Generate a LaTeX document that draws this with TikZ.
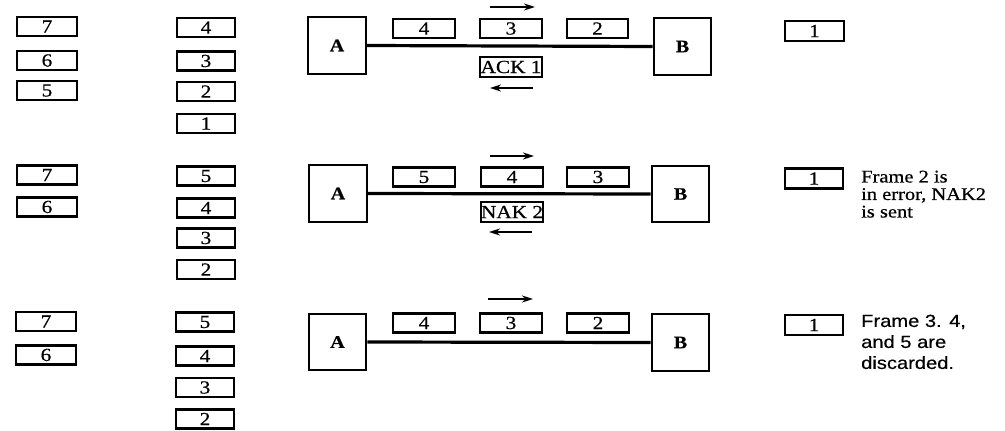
\documentclass[tikz,border=0pt]{standalone}
\usepackage{fontspec}
\setmainfont{Liberation Serif}[FakeStretch=1.15,FakeBold=0.6]
\newfontfamily\notesans{Liberation Sans}[FakeStretch=1.15,FakeBold=0.4]
\usetikzlibrary{arrows.meta}

\begin{document}
\begin{tikzpicture}[x=1pt,y=-1pt,
  frm/.style={draw, line width=2.3pt, minimum height=19pt, inner sep=0pt,
    font=\fontsize{18.5}{18.5}\selectfont},
  lcol/.style={frm, minimum width=59.5pt},
  qcol/.style={frm, minimum width=57.5pt},
  wire/.style={frm, minimum width=61.5pt},
  done/.style={frm, minimum width=58.5pt, minimum height=20pt},
  reply/.style={frm, minimum width=61.5pt, minimum height=20pt},
  station/.style={draw, line width=2.3pt, minimum width=57.5pt, minimum height=56.5pt,
    inner sep=0pt, font=\fontsize{17.5}{17.5}\selectfont\bfseries},
  link/.style={line width=3.2pt},
  dirarrow/.style={line width=2pt, -{Stealth[length=11pt,width=7pt]}},
  note/.style={anchor=north west, align=left, inner sep=0pt}]

\useasboundingbox (0,0) rectangle (1005,431);

% ---------- first step: frames 2-4 on the wire, ACK 1 returning ----------
\node[lcol] (l17) at (47,26.5) {7};
\node[lcol] (l16) at (47,60.5) {6};
\node[lcol] (l15) at (47,90.5) {5};
\node[qcol] (q14) at (206,27.5) {4};
\node[qcol] (q13) at (206,61) {3};
\node[qcol] (q12) at (206,91.5) {2};
\node[qcol] (q11) at (206,123.5) {1};
\node[station] (A1) at (337,45.5) {A};
\node[station] (B1) at (682.5,46.5) {B};
\draw[link] (A1.east) -- (B1.west);
\node[wire] (w14) at (424,28.5) {4};
\node[wire] (w13) at (511,28.5) {3};
\node[wire] (w12) at (597.5,28.5) {2};
\node[reply] (ack) at (511,67) {ACK 1};
\coordinate (u1s) at (490,7);   \coordinate (u1e) at (535,7);
\coordinate (d1s) at (533,88);  \coordinate (d1e) at (490,88);
\draw[dirarrow] (u1s) -- (u1e);
\draw[dirarrow] (d1s) -- (d1e);
\node[done] (r11) at (814.5,31) {1};

% ---------- second step: frame 2 in error, NAK 2 returning ----------
\node[lcol] (l27) at (47,175) {7};
\node[lcol] (l26) at (47,207) {6};
\node[qcol] (q25) at (206,176) {5};
\node[qcol] (q24) at (206,208) {4};
\node[qcol] (q23) at (206,238) {3};
\node[qcol] (q22) at (206,269.5) {2};
\node[station] (A2) at (338,193.5) {A};
\node[station] (B2) at (680.5,194) {B};
\draw[link] (A2.east) -- (B2.west);
\node[wire] (w25) at (424,177) {5};
\node[wire] (w24) at (512,177) {4};
\node[wire] (w23) at (598,177) {3};
\node[reply] (nak) at (512,212) {NAK 2};
\coordinate (u2s) at (490,156); \coordinate (u2e) at (534,156);
\coordinate (d2s) at (532,232); \coordinate (d2e) at (489,232);
\draw[dirarrow] (u2s) -- (u2e);
\draw[dirarrow] (d2s) -- (d2e);
\node[done] (r21) at (814,178.5) {1};
\node[note, font=\fontsize{17.8}{17.5}\selectfont] (n2) at (861,170.5)
  {Frame 2 is\\in error, NAK2\\is sent};

% ---------- third step: frames 3, 4 and 5 discarded ----------
\node[lcol] (l37) at (46,321.5) {7};
\node[lcol] (l36) at (46,355) {6};
\node[qcol] (q35) at (205,322) {5};
\node[qcol] (q34) at (205,356) {4};
\node[qcol] (q33) at (205,387.5) {3};
\node[qcol] (q32) at (205,419) {2};
\node[station] (A3) at (337.5,342) {A};
\node[station] (B3) at (680.5,342.5) {B};
\draw[link] (A3.east) -- (B3.west);
\node[wire] (w34) at (424,323) {4};
\node[wire] (w33) at (511,323) {3};
\node[wire] (w32) at (598,323) {2};
\coordinate (u3s) at (488,299); \coordinate (u3e) at (533,299);
\draw[dirarrow] (u3s) -- (u3e);
\node[done] (r31) at (814,325) {1};
\node[note, font=\notesans\fontsize{17.5}{21}\selectfont] (n3) at (861,314.5)
  {Frame 3. 4,\\and 5 are\\discarded.};
\end{tikzpicture}
\end{document}
